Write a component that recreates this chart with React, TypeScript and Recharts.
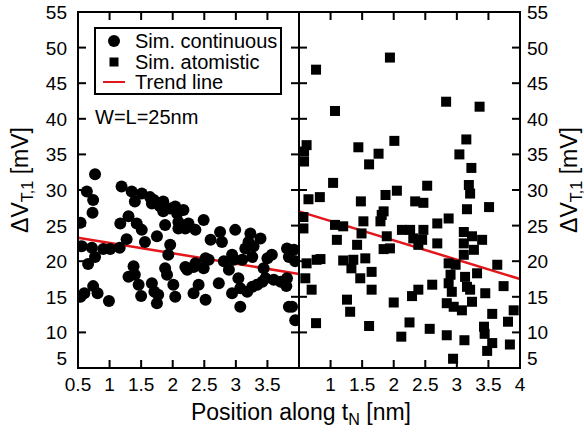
import React from "react";
import { ScatterChart, Scatter, XAxis, YAxis, ReferenceLine } from "recharts";

// y ticks shared by both panels
const yTicks = [5, 10, 15, 20, 25, 30, 35, 40, 45, 50, 55];
const leftXTicks = [0.5, 1, 1.5, 2, 2.5, 3, 3.5];
const rightXTicks = [1, 1.5, 2, 2.5, 3, 3.5, 4];

// Sim. continuous (circles), left panel
const continuous = [
  { x: 0.77, y: 32.2 }, { x: 0.64, y: 29.8 }, { x: 0.74, y: 28.6 }, { x: 0.73, y: 26.8 },
  { x: 0.54, y: 25.4 }, { x: 0.56, y: 22.1 }, { x: 0.72, y: 21.9 }, { x: 0.77, y: 20.6 },
  { x: 0.66, y: 19.6 }, { x: 0.9, y: 21.7 }, { x: 1.01, y: 21.7 }, { x: 1.16, y: 21.9 },
  { x: 0.54, y: 15.0 }, { x: 0.6, y: 15.5 }, { x: 0.74, y: 16.5 }, { x: 0.81, y: 15.5 },
  { x: 0.99, y: 14.4 }, { x: 1.19, y: 30.5 }, { x: 1.17, y: 25.3 }, { x: 1.27, y: 23.1 },
  { x: 1.3, y: 26.3 }, { x: 1.35, y: 29.8 }, { x: 1.4, y: 28.4 }, { x: 1.51, y: 29.5 },
  { x: 1.43, y: 25.3 }, { x: 1.51, y: 24.4 }, { x: 1.56, y: 22.7 }, { x: 1.38, y: 19.3 },
  { x: 1.3, y: 17.8 }, { x: 1.4, y: 18.1 }, { x: 1.46, y: 16.7 }, { x: 1.5, y: 15.1 },
  { x: 1.64, y: 29.0 }, { x: 1.7, y: 28.6 }, { x: 1.67, y: 28.1 }, { x: 1.75, y: 23.5 },
  { x: 1.67, y: 16.9 }, { x: 1.71, y: 15.7 }, { x: 1.75, y: 14.1 }, { x: 1.77, y: 15.3 },
  { x: 1.8, y: 27.7 }, { x: 1.85, y: 28.4 }, { x: 1.85, y: 27.0 }, { x: 1.88, y: 25.1 },
  { x: 1.96, y: 27.4 }, { x: 2.04, y: 27.7 }, { x: 2.07, y: 26.7 }, { x: 2.17, y: 27.2 },
  { x: 2.09, y: 25.5 }, { x: 2.09, y: 24.6 }, { x: 2.2, y: 24.6 }, { x: 2.25, y: 25.3 },
  { x: 2.36, y: 24.4 }, { x: 2.49, y: 25.8 }, { x: 1.96, y: 22.3 }, { x: 1.93, y: 20.9 },
  { x: 1.88, y: 19.0 }, { x: 1.91, y: 18.1 }, { x: 2.01, y: 16.7 }, { x: 2.04, y: 15.0 },
  { x: 2.2, y: 19.2 }, { x: 2.23, y: 18.8 }, { x: 2.33, y: 19.2 }, { x: 2.36, y: 19.7 },
  { x: 2.49, y: 19.0 }, { x: 2.52, y: 20.4 }, { x: 2.57, y: 20.2 }, { x: 2.41, y: 16.7 },
  { x: 2.33, y: 15.5 }, { x: 2.52, y: 14.6 }, { x: 2.6, y: 23.0 }, { x: 2.75, y: 24.1 },
  { x: 2.78, y: 22.7 }, { x: 2.73, y: 16.9 }, { x: 2.81, y: 20.0 }, { x: 2.89, y: 18.8 },
  { x: 2.94, y: 20.9 }, { x: 2.99, y: 24.4 }, { x: 2.97, y: 20.2 }, { x: 2.94, y: 15.5 },
  { x: 3.04, y: 17.6 }, { x: 3.07, y: 13.6 }, { x: 3.1, y: 20.2 }, { x: 3.07, y: 16.2 },
  { x: 3.15, y: 21.8 }, { x: 3.23, y: 23.9 }, { x: 3.2, y: 22.7 }, { x: 3.26, y: 20.6 },
  { x: 3.18, y: 15.7 }, { x: 3.26, y: 16.4 }, { x: 3.28, y: 22.1 }, { x: 3.39, y: 23.2 },
  { x: 3.34, y: 16.7 }, { x: 3.42, y: 17.1 }, { x: 3.47, y: 17.6 }, { x: 3.44, y: 19.0 },
  { x: 3.5, y: 20.4 }, { x: 3.57, y: 20.9 }, { x: 3.6, y: 17.4 }, { x: 3.71, y: 17.1 },
  { x: 3.81, y: 17.6 }, { x: 3.8, y: 16.5 }, { x: 3.81, y: 21.8 }, { x: 3.84, y: 20.6 },
  { x: 3.92, y: 21.6 }, { x: 3.94, y: 20.0 }, { x: 3.84, y: 13.6 }, { x: 3.89, y: 13.6 },
  { x: 3.94, y: 11.7 },
];

// Sim. atomistic (squares), right panel
const atomistic = [
  { x: 1.94, y: 48.6 }, { x: 0.77, y: 46.9 }, { x: 1.07, y: 41.1 }, { x: 2.83, y: 42.4 },
  { x: 3.36, y: 41.7 }, { x: 0.62, y: 36.3 }, { x: 1.44, y: 36.0 }, { x: 2.01, y: 36.9 },
  { x: 3.15, y: 37.1 }, { x: 1.76, y: 35.1 }, { x: 3.04, y: 35.0 }, { x: 0.58, y: 35.4 },
  { x: 0.58, y: 34.0 }, { x: 1.61, y: 33.6 }, { x: 3.23, y: 33.1 }, { x: 1.04, y: 31.0 },
  { x: 2.53, y: 30.6 }, { x: 3.19, y: 30.7 }, { x: 3.21, y: 29.5 }, { x: 0.65, y: 28.7 },
  { x: 0.83, y: 29.0 }, { x: 1.48, y: 28.4 }, { x: 1.87, y: 29.3 }, { x: 2.05, y: 29.9 },
  { x: 2.34, y: 28.4 }, { x: 2.47, y: 28.2 }, { x: 1.84, y: 27.0 }, { x: 3.16, y: 27.3 },
  { x: 3.51, y: 27.6 }, { x: 0.57, y: 26.2 }, { x: 0.57, y: 24.6 }, { x: 1.07, y: 25.1 },
  { x: 1.2, y: 24.9 }, { x: 1.1, y: 23.0 }, { x: 1.52, y: 25.6 }, { x: 1.79, y: 25.6 },
  { x: 1.81, y: 26.5 }, { x: 2.69, y: 25.3 }, { x: 2.87, y: 26.0 }, { x: 1.49, y: 23.9 },
  { x: 1.42, y: 22.3 }, { x: 1.89, y: 23.5 }, { x: 1.94, y: 21.8 }, { x: 1.84, y: 21.7 },
  { x: 2.13, y: 24.4 }, { x: 2.26, y: 24.4 }, { x: 2.31, y: 23.2 }, { x: 2.39, y: 22.3 },
  { x: 2.47, y: 24.4 }, { x: 2.45, y: 23.0 }, { x: 2.69, y: 22.5 }, { x: 3.11, y: 24.1 },
  { x: 3.24, y: 23.5 }, { x: 3.4, y: 23.0 }, { x: 3.11, y: 22.5 }, { x: 3.27, y: 21.6 },
  { x: 3.11, y: 20.9 }, { x: 0.62, y: 19.7 }, { x: 0.78, y: 20.2 }, { x: 0.84, y: 20.3 },
  { x: 1.2, y: 20.1 }, { x: 1.36, y: 20.2 }, { x: 1.55, y: 20.4 }, { x: 1.33, y: 19.0 },
  { x: 0.6, y: 17.6 }, { x: 0.7, y: 16.0 }, { x: 1.47, y: 17.6 }, { x: 1.65, y: 18.5 },
  { x: 1.65, y: 16.0 }, { x: 1.26, y: 14.6 }, { x: 1.31, y: 12.9 }, { x: 2.0, y: 14.2 },
  { x: 2.29, y: 15.1 }, { x: 2.39, y: 16.0 }, { x: 2.61, y: 16.7 }, { x: 2.87, y: 19.7 },
  { x: 2.98, y: 19.5 }, { x: 2.9, y: 18.1 }, { x: 2.87, y: 16.9 }, { x: 2.92, y: 15.7 },
  { x: 2.84, y: 14.1 }, { x: 2.95, y: 13.6 }, { x: 3.08, y: 13.1 }, { x: 3.13, y: 17.8 },
  { x: 3.16, y: 16.4 }, { x: 3.21, y: 16.0 }, { x: 3.24, y: 14.3 }, { x: 3.32, y: 18.3 },
  { x: 3.45, y: 15.5 }, { x: 3.64, y: 19.5 }, { x: 3.74, y: 16.5 }, { x: 3.56, y: 12.6 },
  { x: 3.9, y: 13.1 }, { x: 3.81, y: 11.5 }, { x: 0.77, y: 11.3 }, { x: 1.61, y: 10.9 },
  { x: 2.25, y: 11.4 }, { x: 2.12, y: 9.4 }, { x: 2.57, y: 10.5 }, { x: 2.84, y: 9.6 },
  { x: 3.12, y: 8.9 }, { x: 3.43, y: 10.8 }, { x: 3.44, y: 9.8 }, { x: 3.56, y: 8.5 },
  { x: 3.48, y: 7.4 }, { x: 3.84, y: 8.3 }, { x: 2.94, y: 6.3 },
];

// trend lines (end points)
const continuousTrend = [{ x: 0.5, y: 23.3 }, { x: 4, y: 18.2 }];
const atomisticTrend = [{ x: 0.5, y: 27.0 }, { x: 4, y: 17.5 }];

const FONT = '"Liberation Sans", Arial, Helvetica, sans-serif';
const RED = "#e3161b";
const TICK = 8;
const PLOT_TOP = 12;
const LEFT_W = 300; // left chart svg width, plot spans 78..299
const RIGHT_W = 286; // right chart svg width, plot spans 1..222 (page 299..520)

const Circle = (p: any) => <circle cx={p.cx} cy={p.cy} r={6} fill="#000" />;
const Square = (p: any) => (
  <rect x={p.cx - 5} y={p.cy - 5} width={10} height={10} fill="#000" />
);

// x labels + inward marks (filled bars) on the bottom and top edges
const XTick = ({ x, y, payload, margin }: any) => {
  const bottom = y - margin;
  return (
    <g>
      <rect x={x - 1} y={bottom - TICK} width={2} height={TICK} fill="#000" />
      <rect x={x - 1} y={PLOT_TOP} width={2} height={TICK} fill="#000" />
      <text x={x} y={y} dy={21} textAnchor="middle" fontSize={19} fontFamily={FONT} fill="#000">
        {payload.value}
      </text>
    </g>
  );
};

// y labels + inward marks on both vertical edges of the panel
const YTick = ({ x, y, payload, anchor, margin, otherEdge }: any) => {
  const edge = anchor === "end" ? x + margin : x - margin;
  const near = anchor === "end" ? edge : edge - TICK;
  const far = anchor === "end" ? otherEdge - TICK : otherEdge;
  return (
    <g>
      <rect x={near} y={y - 1} width={TICK} height={2} fill="#000" />
      <rect x={far} y={y - 1} width={TICK} height={2} fill="#000" />
      <text
        x={x}
        y={y}
        dy={payload.value === 5 ? -3 : 7}
        textAnchor={anchor}
        fontSize={19}
        fontFamily={FONT}
        fill="#000"
      >
        {payload.value}
      </text>
    </g>
  );
};

const common = {
  axisLine: false,
  tickLine: false,
  tickSize: 0,
  interval: 0 as const,
  type: "number" as const,
  allowDataOverflow: true,
};

function Panel({ side }: { side: "left" | "right" }) {
  const isLeft = side === "left";
  return (
    <ScatterChart
      width={isLeft ? LEFT_W : RIGHT_W}
      height={433}
      margin={{ top: PLOT_TOP, right: isLeft ? 1 : 0, bottom: 0, left: 0 }}
    >
      <XAxis
        {...common}
        xAxisId="b"
        dataKey="x"
        domain={[0.5, 4]}
        ticks={isLeft ? leftXTicks : rightXTicks}
        height={65}
        tickMargin={2}
        tick={<XTick margin={2} />}
      />
      <YAxis
        {...common}
        yAxisId="l"
        dataKey="y"
        orientation="left"
        domain={[5, 55]}
        ticks={yTicks}
        width={isLeft ? 78 : 1}
        tickMargin={11}
        tick={isLeft ? <YTick anchor="end" margin={11} otherEdge={LEFT_W - 1} /> : false}
      />
      {!isLeft && (
        <YAxis
          {...common}
          yAxisId="r"
          dataKey="y"
          orientation="right"
          domain={[5, 55]}
          ticks={yTicks}
          width={64}
          tickMargin={7}
          tick={<YTick anchor="start" margin={7} otherEdge={1} />}
        />
      )}
      <Scatter
        xAxisId="b"
        yAxisId="l"
        data={isLeft ? continuous : atomistic}
        shape={isLeft ? Circle : Square}
        isAnimationActive={false}
      />
      <ReferenceLine
        xAxisId="b"
        yAxisId="l"
        segment={isLeft ? continuousTrend : atomisticTrend}
        stroke={RED}
        strokeWidth={2.5}
      />
    </ScatterChart>
  );
}

const yLabel = (
  <span>
    ΔV<sub style={{ fontSize: "0.7em", verticalAlign: "-0.3em" }}>T,1</sub> [mV]
  </span>
);

const frameBox = (left: number) => ({
  position: "absolute" as const,
  left,
  top: PLOT_TOP - 1,
  width: 223,
  height: 358,
  boxSizing: "border-box" as const,
  border: "2px solid #000",
  pointerEvents: "none" as const,
});

export default function App() {
  return (
    <div
      style={{
        position: "absolute",
        left: 0,
        top: 0,
        width: 584,
        height: 433,
        background: "#fff",
        overflow: "hidden",
        fontFamily: FONT,
        color: "#000",
      }}
    >
      <div style={{ position: "absolute", left: 0, top: 0 }}>
        <Panel side="left" />
      </div>
      <div style={{ position: "absolute", left: 298, top: 0 }}>
        <Panel side="right" />
      </div>

      {/* panel frames */}
      <div style={frameBox(77)} />
      <div style={frameBox(298)} />

      {/* legend */}
      <div
        style={{
          position: "absolute",
          left: 94,
          top: 27,
          width: 184,
          height: 64,
          border: "2px solid #000",
          background: "#fff",
          fontSize: 20,
          lineHeight: "20px",
        }}
      >
        {[
          { label: "Sim. continuous", icon: <circle cx={11} cy={10} r={6} fill="#000" /> },
          { label: "Sim. atomistic", icon: <rect x={6.5} y={5.5} width={9} height={9} fill="#000" /> },
          { label: "Trend line", icon: <line x1={0} x2={22} y1={10} y2={10} stroke={RED} strokeWidth={2} /> },
        ].map((e, i) => (
          <div key={e.label} style={{ position: "absolute", left: 7, top: 2 + i * 20.5, height: 20, whiteSpace: "nowrap" }}>
            <svg width={22} height={20} style={{ position: "absolute", left: 0, top: 0 }}>
              {e.icon}
            </svg>
            <span style={{ position: "absolute", left: 32, top: 0 }}>{e.label}</span>
          </div>
        ))}
      </div>

      <div style={{ position: "absolute", left: 95, top: 107, fontSize: 20, lineHeight: "20px", whiteSpace: "nowrap" }}>
        W=L=25nm
      </div>

      {/* axis titles */}
      <div
        style={{
          position: "absolute",
          left: 301,
          top: 401,
          transform: "translateX(-50%)",
          fontSize: 23,
          lineHeight: "23px",
          whiteSpace: "nowrap",
        }}
      >
        Position along t<sub style={{ fontSize: "0.7em", verticalAlign: "-0.3em" }}>N</sub> [nm]
      </div>
      <div
        style={{
          position: "absolute",
          left: 24,
          top: 180,
          transform: "translate(-50%, -50%) rotate(-90deg)",
          fontSize: 23,
          lineHeight: "23px",
          whiteSpace: "nowrap",
        }}
      >
        {yLabel}
      </div>
      <div
        style={{
          position: "absolute",
          left: 573,
          top: 180,
          transform: "translate(-50%, -50%) rotate(-90deg)",
          fontSize: 23,
          lineHeight: "23px",
          whiteSpace: "nowrap",
        }}
      >
        {yLabel}
      </div>
    </div>
  );
}
